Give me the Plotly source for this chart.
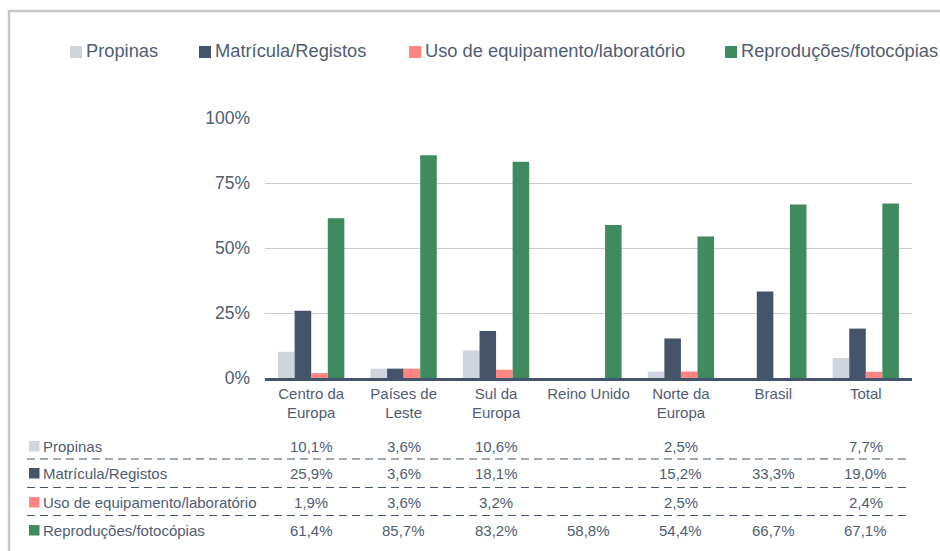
import plotly.graph_objects as go

# ---------------- data ----------------
categories = ["Centro da Europa", "Países de Leste", "Sul da Europa", "Reino Unido",
              "Norte da Europa", "Brasil", "Total"]
tick_labels = ["Centro da<br>Europa", "Países de<br>Leste", "Sul da<br>Europa", "Reino Unido",
               "Norte da<br>Europa", "Brasil", "Total"]
series_names = ["Propinas", "Matrícula/Registos", "Uso de equipamento/laboratório",
                "Reproduções/fotocópias"]
propinas = [10.1, 3.6, 10.6, None, 2.5, None, 7.7]
matricula = [25.9, 3.6, 18.1, None, 15.2, 33.3, 19.0]
uso_equip = [1.9, 3.6, 3.2, None, 2.5, None, 2.4]
reproducoes = [61.4, 85.7, 83.2, 58.8, 54.4, 66.7, 67.1]
y_ticks = [0, 0.25, 0.5, 0.75, 1.0]

series_values = [propinas, matricula, uso_equip, reproducoes]
colors = ["#cfd5de", "#44546a", "#ff8585", "#3f8a5f"]

TXT = "#505d72"
FONT = "Liberation Sans, Arial, sans-serif"

# ---------------- layout helpers (screen pixel -> paper) ----------------
W, H = 940, 551
PL, PR, PT, PB = 265, 912, 118, 378  # plot area in pixels


def px(x):
    return (x - PL) / (PR - PL)


def py(y):
    return (PB - y) / (PB - PT)


fig = go.Figure()
for name, vals, col in zip(series_names, series_values, colors):
    fig.add_trace(go.Bar(
        x=categories,
        y=[v / 100 if v is not None else None for v in vals],
        name=name,
        marker=dict(color=col, line=dict(width=0)),
        showlegend=False,
        hoverinfo="skip",
    ))

shapes = []
annotations = []

# outer border (top + left)
shapes.append(dict(type="line", xref="paper", yref="paper", x0=px(9), x1=px(945),
                   y0=py(11), y1=py(11), line=dict(color="#c6c6c6", width=2.5)))
shapes.append(dict(type="line", xref="paper", yref="paper", x0=px(9), x1=px(9),
                   y0=py(10), y1=py(560), line=dict(color="#c6c6c6", width=2.5)))

# top legend
leg_sq_x = [70, 199, 409, 725]
for name, col, sx in zip(series_names, colors, leg_sq_x):
    shapes.append(dict(type="rect", xref="paper", yref="paper",
                       x0=px(sx), x1=px(sx + 12), y0=py(58), y1=py(46),
                       fillcolor=col, line=dict(width=0)))
    annotations.append(dict(xref="paper", yref="paper", x=px(sx + 14), y=py(50),
                            xanchor="left", yanchor="middle", showarrow=False,
                            text=name, font=dict(family=FONT, size=18.3, color=TXT)))

# data table
row_y = [446, 473, 502, 530]
sep_y = [459, 487.5, 515.5]
for sy in sep_y:
    shapes.append(dict(type="line", xref="paper", yref="paper", x0=px(27), x1=px(908),
                       y0=py(sy), y1=py(sy),
                       line=dict(color="#44546a", width=1, dash="8px,5px")))

for name, vals, col, ry in zip(series_names, series_values, colors, row_y):
    shapes.append(dict(type="rect", xref="paper", yref="paper",
                       x0=px(29), x1=px(39.5), y0=py(ry + 5.5), y1=py(ry - 5),
                       fillcolor=col, line=dict(width=0)))
    annotations.append(dict(xref="paper", yref="paper", x=px(41), y=py(ry),
                            xanchor="left", yanchor="middle", showarrow=False,
                            text=name, font=dict(family=FONT, size=15, color=TXT)))
    for i, v in enumerate(vals):
        if v is None:
            continue
        annotations.append(dict(xref="x", yref="paper", x=i, y=py(ry),
                                xanchor="center", yanchor="middle", showarrow=False,
                                text=f"{v:.1f}%".replace(".", ","),
                                font=dict(family=FONT, size=15, color=TXT)))

fig.update_layout(
    width=W, height=H,
    margin=dict(l=PL, r=W - PR, t=PT, b=H - PB, pad=0),
    paper_bgcolor="white", plot_bgcolor="white",
    barmode="group", bargap=0.283, bargroupgap=0,
    font=dict(family=FONT, color=TXT),
    shapes=shapes, annotations=annotations,
    xaxis=dict(tickmode="array", tickvals=categories, ticktext=tick_labels,
               tickfont=dict(family=FONT, size=15, color=TXT),
               showline=True, linecolor="#44546a", linewidth=2.5,
               showgrid=False, ticks="", fixedrange=True),
    yaxis=dict(range=[0, 1], tickvals=y_ticks, tickformat=".0%",
               tickfont=dict(family=FONT, size=17.5, color=TXT),
               showgrid=True, gridcolor="#cccccc", gridwidth=1,
               zeroline=False, showline=False, ticks="", ticklabelstandoff=14,
               fixedrange=True),
)

fig.write_html(
    "out.html",
    config={"displayModeBar": False, "staticPlot": True},
    post_script="document.body.style.margin='0';document.body.style.overflow='hidden';",
)
